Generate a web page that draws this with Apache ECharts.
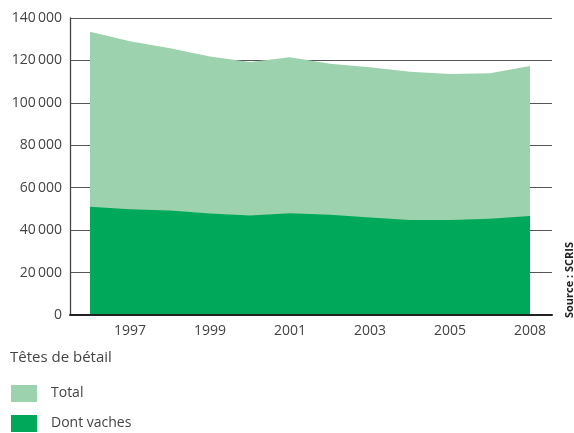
<!DOCTYPE html>
<html>
<head>
<meta charset="utf-8">
<script src="https://cdn.jsdelivr.net/npm/echarts@6/dist/echarts.min.js"></script>
<style>
html,body{margin:0;padding:0;background:#fff;}
#c{width:574px;height:433px;}
</style>
</head>
<body>
<div id="c"></div>
<script>
// Data points (one per year position on the axis)
const pointIndex = [0, 1, 2, 3, 4, 5, 6, 7, 8, 9, 10, 11];
const totalValues = [133500, 129000, 125700, 121800, 119300, 121500, 118400, 116800, 114700, 113600, 113900, 117400];
const vachesValues = [51000, 49800, 49300, 47900, 46900, 48000, 47300, 46000, 44800, 44800, 45400, 46700];
const tickPositions = [1, 3, 5, 7, 9, 11];
const tickLabels = ['1997', '1999', '2001', '2003', '2005', '2008'];
const seriesNames = ['Total', 'Dont vaches'];
const yTicks = [0, 20000, 40000, 60000, 80000, 100000, 120000, 140000];

const FONT = "'Open Sans', sans-serif";
const chart = echarts.init(document.getElementById('c'), null, {renderer: 'canvas'});

function fmtNum(v) {
  const s = String(v);
  if (s.length <= 3) return s;
  return s.slice(0, s.length - 3) + '\u2009' + s.slice(s.length - 3);
}

chart.setOption({
  animation: false,
  backgroundColor: '#ffffff',
  grid: {left: 70, right: 22, top: 18, bottom: 118, containLabel: false},
  legend: {
    orient: 'vertical',
    left: 11,
    top: 385,
    padding: 0,
    itemWidth: 26,
    itemHeight: 17,
    itemGap: 13,
    icon: 'rect',
    data: seriesNames,
    textStyle: {fontFamily: FONT, fontSize: 14, color: '#444', padding: [0, 0, 0, 9]}
  },
  xAxis: {
    type: 'value',
    min: -0.5,
    max: 11.55,
    z: 5,
    axisLine: {show: true, onZero: false, lineStyle: {color: '#222', width: 2}},
    axisTick: {show: false},
    splitLine: {show: false},
    axisLabel: {
      customValues: tickPositions,
      margin: 9,
      fontFamily: FONT,
      fontSize: 14,
      color: '#444',
      formatter: function (v) {
        const i = tickPositions.indexOf(Math.round(v));
        return i >= 0 ? tickLabels[i] : '';
      }
    }
  },
  yAxis: {
    type: 'value',
    min: yTicks[0],
    max: yTicks[yTicks.length - 1],
    interval: yTicks[1] - yTicks[0],
    z: 1,
    axisLine: {show: true, onZero: false, lineStyle: {color: '#444', width: 1.3}},
    axisTick: {show: false},
    splitLine: {show: true, lineStyle: {color: '#555', width: 1}},
    axisLabel: {
      margin: 8,
      fontFamily: FONT,
      fontSize: 14,
      color: '#444',
      formatter: fmtNum
    }
  },
  series: [
    {
      name: seriesNames[0],
      type: 'line',
      data: pointIndex.map((x, i) => [x, totalValues[i]]),
      symbol: 'none',
      lineStyle: {width: 0},
      itemStyle: {color: '#9cd3ae'},
      areaStyle: {color: '#9cd3ae', opacity: 1},
      z: 2
    },
    {
      name: seriesNames[1],
      type: 'line',
      data: pointIndex.map((x, i) => [x, vachesValues[i]]),
      symbol: 'none',
      lineStyle: {width: 0},
      itemStyle: {color: '#00a859'},
      areaStyle: {color: '#00a859', opacity: 1},
      z: 3
    }
  ],
  graphic: [
    {
      type: 'text',
      left: 10,
      top: 350,
      style: {text: 'Têtes de bétail', font: "15px 'Open Sans', sans-serif", fill: '#444'}
    },
    {
      type: 'text',
      x: 570,
      y: 280,
      rotation: Math.PI / 2,
      style: {
        text: 'Source : SCRIS',
        font: "bold 11px 'Open Sans', sans-serif",
        fill: '#222',
        align: 'center',
        verticalAlign: 'middle'
      }
    }
  ]
});
</script>
</body>
</html>
